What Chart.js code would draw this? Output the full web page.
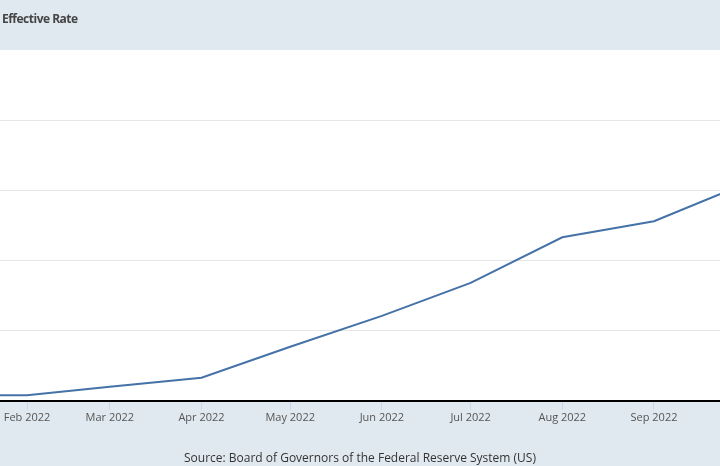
<!DOCTYPE html>
<html>
<head>
<meta charset="utf-8">
<script src="https://cdn.jsdelivr.net/npm/chart.js@4"></script>
<style>
  html, body { margin: 0; padding: 0; background: #e1e9f0; }
  #wrap { position: relative; width: 720px; height: 466px; overflow: hidden; }
  #title { position: absolute; left: 2px; top: 10px; font: bold 12px "Open Sans", sans-serif; letter-spacing: -0.5px; color: #444; }
  #source { position: absolute; left: 0; width: 720px; top: 449px; text-align: center; font: 12px "Open Sans", sans-serif; color: #333; }
</style>
</head>
<body>
<div id="wrap">
  <canvas id="ratechart" width="720" height="466"></canvas>
  <div id="title">Effective Rate</div>
  <div id="source">Source: Board of Governors of the Federal Reserve System (US)</div>
</div>
<script>
// monthly effective federal funds rate, percent
const months = ["2022-01-01", "2022-02-01", "2022-03-01", "2022-04-01", "2022-05-01",
                "2022-06-01", "2022-07-01", "2022-08-01", "2022-09-01", "2022-10-01"]
const rates = [0.08, 0.08, 0.20, 0.33, 0.77, 1.21, 1.68, 2.33, 2.56, 3.08]
const tickMonths = ["2022-02-01", "2022-03-01", "2022-04-01", "2022-05-01",
                    "2022-06-01", "2022-07-01", "2022-08-01", "2022-09-01"]
const monthNames = ["Jan", "Feb", "Mar", "Apr", "May", "Jun", "Jul", "Aug", "Sep", "Oct", "Nov", "Dec"]

const start = Date.UTC(2022, 0, 1)
function dayOf(s) {
    return (Date.parse(s + "T00:00:00Z") - start) / 86400000
}
function labelOf(day) {
    var d = new Date(start + day * 86400000)
    return monthNames[d.getUTCMonth()] + " " + d.getUTCFullYear()
}

var points = []
months.forEach((m, i) => {
    points.push({ x: dayOf(m), y: rates[i] })
});

const whiteArea = {
    id: 'whiteArea',
    beforeDraw(chart) {
        const a = chart.chartArea
        chart.ctx.save()
        chart.ctx.fillStyle = '#ffffff'
        chart.ctx.fillRect(a.left, a.top, a.right - a.left, a.bottom - a.top)
        chart.ctx.restore()
    }
}

const config = {
    type: 'line',
    data: {
        datasets: [{
            label: "Effective Rate",
            data: points,
            borderColor: '#4572a7',
            backgroundColor: '#4572a7',
            borderWidth: 2,
            pointRadius: 0,
            tension: 0,
            fill: false
        }]
    },
    options: {
        responsive: false,
        animation: false,
        layout: { padding: { top: 50, left: 0, right: 0, bottom: 41 } },
        plugins: {
            legend: { display: false },
            tooltip: { enabled: false }
        },
        scales: {
            x: {
                type: 'linear',
                min: 21.87,
                max: 265.32,
                afterBuildTicks: (axis) => {
                    axis.ticks = tickMonths.map(m => ({ value: dayOf(m) }))
                },
                ticks: {
                    callback: (v) => labelOf(v),
                    autoSkip: false,
                    maxRotation: 0,
                    padding: 1,
                    color: '#555',
                    font: { family: 'Open Sans', size: 11 }
                },
                grid: {
                    drawOnChartArea: false,
                    drawTicks: true,
                    tickLength: 9,
                    color: '#ccd6eb'
                },
                border: { display: true, color: '#000000', width: 2 }
            },
            y: {
                min: 0,
                max: 5,
                ticks: { display: false, stepSize: 1 },
                grid: {
                    drawTicks: false,
                    color: (c) => (c.tick && (c.tick.value == 0 || c.tick.value == 5)) ? 'rgba(0,0,0,0)' : '#e6e6e6'
                },
                border: { display: false }
            }
        }
    },
    plugins: [whiteArea]
};

const myChart = new Chart(document.getElementById("ratechart"), config);
</script>
</body>
</html>
